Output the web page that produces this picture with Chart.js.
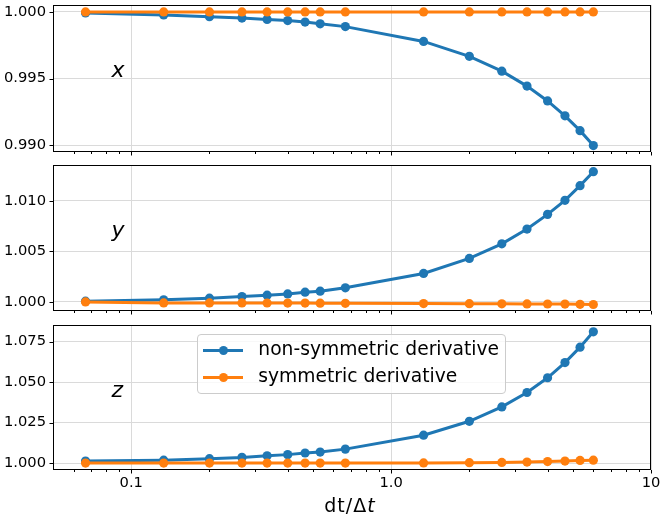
<!DOCTYPE html>
<html>
<head>
<meta charset="utf-8">
<title>Derivative ratio vs dt/Δt</title>
<script src="https://cdn.jsdelivr.net/npm/chart.js@4.4.1/dist/chart.umd.min.js"></script>
<style>
  html, body { margin:0; padding:0; background:#ffffff; }
  body { width:664px; height:517px; position:relative; overflow:hidden; font-family:"DejaVu Sans", sans-serif; color:#000; }
  .panel { position:absolute; left:0; }
  .plabel { position:absolute; font-style:italic; font-size:22px; line-height:22px; white-space:nowrap; }
  #xtitle { position:absolute; left:250px; width:200px; top:495.6px; text-align:center; font-size:19px; line-height:19px; letter-spacing:1px; white-space:nowrap; }
  #legend { position:absolute; left:197px; top:334px; width:307px; height:58px; border:1px solid #cccccc; border-radius:4px; background:rgba(255,255,255,0.8); }
  .lline { position:absolute; left:5.3px; width:40px; height:3px; }
  .ldot { position:absolute; left:20.8px; width:9px; height:9px; border-radius:50%; }
  .ltext { position:absolute; left:60.3px; font-size:18.7px; line-height:18.7px; white-space:nowrap; }
</style>
</head>
<body>
<canvas id="c1" class="panel" style="top:0px" width="664" height="160"></canvas>
<canvas id="c2" class="panel" style="top:160px" width="664" height="160"></canvas>
<canvas id="c3" class="panel" style="top:320px" width="664" height="197"></canvas>

<div class="plabel" style="left:111.5px; top:58.7px;">x</div>
<div class="plabel" style="left:111.5px; top:218.7px;">y</div>
<div class="plabel" style="left:111.5px; top:378.7px;">z</div>

<div id="legend">
  <div class="lline" style="top:13.5px; background:#1f77b4;"></div>
  <div class="ldot" style="top:10.5px; background:#1f77b4;"></div>
  <div class="ltext" style="top:4.9px;">non-symmetric derivative</div>
  <div class="lline" style="top:40.8px; background:#ff7f0e;"></div>
  <div class="ldot" style="top:37.8px; background:#ff7f0e;"></div>
  <div class="ltext" style="top:32.2px;">symmetric derivative</div>
</div>

<div id="xtitle">dt/Δ<i>t</i></div>

<script>
// ---------------- data ----------------
const dtValues = [0.0667, 0.1333, 0.2, 0.2667, 0.3333, 0.4, 0.4667, 0.5333, 0.6667,
                  1.3333, 2.0, 2.6667, 3.3333, 4.0, 4.6667, 5.3333, 6.0];

const nonSymX = [0.99992, 0.99977, 0.99964, 0.99954, 0.99944, 0.99935, 0.99924, 0.99911, 0.99890,
                 0.99779, 0.99667, 0.99556, 0.99444, 0.99333, 0.99221, 0.99110, 0.98998];
const symX    = [1.00000, 1.00000, 1.00000, 1.00000, 1.00000, 1.00000, 1.00000, 1.00000, 1.00000,
                 1.00000, 1.00000, 1.00000, 1.00000, 1.00000, 1.00000, 1.00000, 1.00000];

const nonSymY = [1.00007, 1.00020, 1.00037, 1.00053, 1.00066, 1.00079, 1.00096, 1.00106, 1.00139,
                 1.00281, 1.00430, 1.00574, 1.00720, 1.00865, 1.01004, 1.01149, 1.01287];
const symY    = [1.00000, 0.99990, 0.99990, 0.99990, 0.99989, 0.99988, 0.99988, 0.99987, 0.99986,
                 0.99983, 0.99982, 0.99981, 0.99980, 0.99979, 0.99978, 0.99976, 0.99974];

const nonSymZ = [1.0012, 1.0018, 1.0027, 1.0035, 1.0045, 1.0052, 1.0062, 1.0068, 1.0086,
                 1.0172, 1.0258, 1.0347, 1.0436, 1.0527, 1.0621, 1.0716, 1.0811];
const symZ    = [1.0000, 1.0000, 1.0000, 1.0000, 1.0000, 1.0000, 1.0000, 1.0000, 1.0000,
                 1.0001, 1.0002, 1.0004, 1.0006, 1.0009, 1.0012, 1.0016, 1.0018];

const seriesNames = ['non-symmetric derivative', 'symmetric derivative'];

const xTickValues = [0.06, 0.07, 0.08, 0.09, 0.1, 0.2, 0.3, 0.4, 0.5, 0.6, 0.7, 0.8, 0.9,
                     1, 2, 3, 4, 5, 6, 7, 8, 9, 10];
const xMajorValues = [0.1, 1, 10];
const xTickLabels  = ['0.1', '1.0', '10'];

const yTicksX = [0.990, 0.995, 1.000];
const yTicksY = [1.000, 1.005, 1.010];
const yTicksZ = [1.000, 1.025, 1.050, 1.075];

const yRangeX = [0.9895, 1.00052];
const yRangeY = [0.9991, 1.01353];
const yRangeZ = [0.9957, 1.0853];
const xRange  = [0.05, 10];

// ---------------- styling ----------------
const BLUE = '#1f77b4';
const ORANGE = '#ff7f0e';
const GRID = '#dadada';
const FONT = 'DejaVu Sans';

const framePlugin = {
  id: 'frame',
  afterDraw(chart) {
    const { ctx, chartArea: a, scales } = chart;
    ctx.save();
    ctx.strokeStyle = '#000';
    ctx.lineWidth = 1;
    const xs = scales.x;
    xs.ticks.forEach(t => {
      const px = Math.round(xs.getPixelForValue(t.value)) + 0.5;
      const len = t.major ? 3.5 : 2;
      ctx.beginPath();
      ctx.moveTo(px, a.bottom);
      ctx.lineTo(px, a.bottom + len);
      ctx.stroke();
    });
    const ys = scales.y;
    ys.ticks.forEach(t => {
      const py = Math.round(ys.getPixelForValue(t.value)) + 0.5;
      ctx.beginPath();
      ctx.moveTo(a.left, py);
      ctx.lineTo(a.left - 3.5, py);
      ctx.stroke();
    });
    ctx.strokeRect(Math.round(a.left) + 0.5, Math.round(a.top) + 0.5,
                   Math.round(a.right - a.left) - 1, Math.round(a.bottom - a.top) - 1);
    ctx.restore();
  }
};

function makePanel(id, nonSym, sym, yRange, yTicks, xHeight, showXLabels) {
  const toPts = arr => dtValues.map((x, i) => ({ x: x, y: arr[i] }));
  return new Chart(document.getElementById(id), {
    type: 'line',
    data: {
      datasets: [
        { label: seriesNames[0], data: toPts(nonSym), borderColor: BLUE, backgroundColor: BLUE,
          pointBackgroundColor: BLUE, pointBorderWidth: 0, pointRadius: 4.6, borderWidth: 3,
          tension: 0, order: 2 },
        { label: seriesNames[1], data: toPts(sym), borderColor: ORANGE, backgroundColor: ORANGE,
          pointBackgroundColor: ORANGE, pointBorderWidth: 0, pointRadius: 4.6, borderWidth: 3,
          tension: 0, order: 1 }
      ]
    },
    options: {
      responsive: false,
      animation: false,
      events: [],
      layout: { padding: { top: 5, right: 13, bottom: 0, left: 0 } },
      plugins: { legend: { display: false }, tooltip: { enabled: false } },
      scales: {
        x: {
          type: 'logarithmic',
          min: xRange[0], max: xRange[1],
          afterBuildTicks: s => { s.ticks = xTickValues.map(v => ({ value: v, major: xMajorValues.includes(v) })); },
          afterFit: s => { s.height = xHeight; s.paddingLeft = 0; s.paddingRight = 0; s.paddingTop = 0; s.paddingBottom = 0; },
          border: { display: false },
          grid: { drawTicks: false, lineWidth: 1,
                  color: c => (c.tick && c.tick.major) ? GRID : 'rgba(0,0,0,0)' },
          ticks: {
            display: showXLabels, autoSkip: false, maxRotation: 0, minRotation: 0,
            padding: 4, color: '#000', font: { family: FONT, size: 14.7 },
            callback: v => { const k = xMajorValues.indexOf(v); return k >= 0 ? xTickLabels[k] : ''; }
          }
        },
        y: {
          type: 'linear',
          min: yRange[0], max: yRange[1],
          afterBuildTicks: s => { s.ticks = yTicks.map(v => ({ value: v })); },
          afterFit: s => { s.width = 53; s.paddingLeft = 0; s.paddingRight = 0; s.paddingTop = 0; s.paddingBottom = 0; },
          border: { display: false },
          grid: { drawTicks: false, lineWidth: 1, color: GRID },
          ticks: {
            padding: 7, color: '#000', font: { family: FONT, size: 14.7 },
            callback: v => Number(v).toFixed(3)
          }
        }
      }
    },
    plugins: [framePlugin]
  });
}

makePanel('c1', nonSymX, symX, yRangeX, yTicksX, 8, false);
makePanel('c2', nonSymY, symY, yRangeY, yTicksY, 9, false);
makePanel('c3', nonSymZ, symZ, yRangeZ, yTicksZ, 47, true);
</script>
</body>
</html>
